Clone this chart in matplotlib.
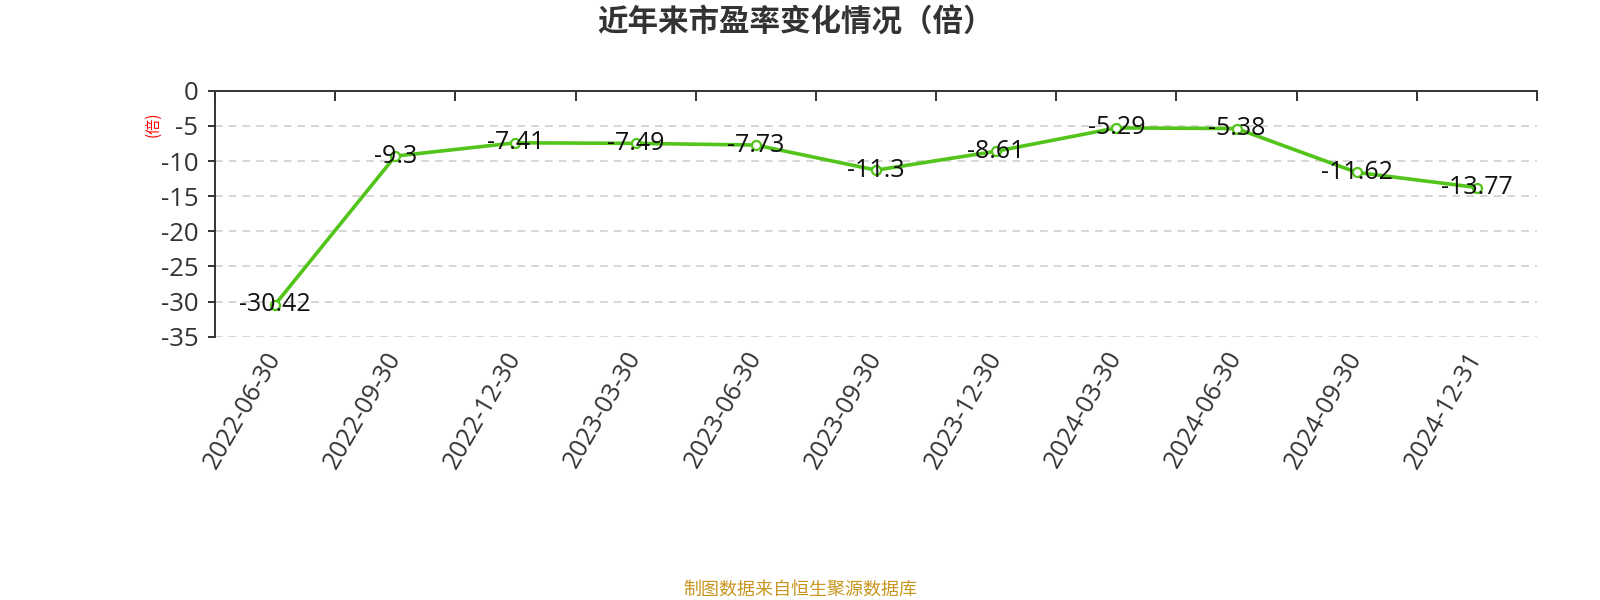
import numpy as np
import matplotlib
matplotlib.use("Agg")
import matplotlib.pyplot as plt

plt.rcParams['font.family'] = ['Open Sans', 'Noto Sans CJK SC', 'DejaVu Sans']
CJK = ['Noto Sans CJK SC', 'DejaVu Sans']

# data
dates = ["2022-06-30", "2022-09-30", "2022-12-30", "2023-03-30", "2023-06-30",
         "2023-09-30", "2023-12-30", "2024-03-30", "2024-06-30", "2024-09-30", "2024-12-31"]
pe = [-30.42, -9.3, -7.41, -7.49, -7.73, -11.3, -8.61, -5.29, -5.38, -11.62, -13.77]
yticks = [0, -5, -10, -15, -20, -25, -30, -35]

fig = plt.figure(figsize=(16, 6), dpi=100)
ax = fig.add_axes([0.1344, 0.4388, 0.8262, 0.41])

x = np.arange(len(dates))
ax.plot(x, pe, color='#52c41a', lw=2.6, marker='o', ms=6.5,
        mfc='white', mec='#52c41a', mew=1.6, zorder=3)
for xi, v in zip(x, pe):
    ax.text(xi, v, f"{v:g}", ha='center', va='center', fontsize=18,
            color='#111111', zorder=4)

ax.set_xlim(-0.5, len(dates) - 0.5)
ax.set_ylim(-35, 0)
ax.set_yticks(yticks)
ax.set_yticklabels([str(t) for t in yticks])
for t in yticks[1:]:
    ax.axhline(t, color='#cccccc', lw=1.1, ls=(0, (5, 4)), zorder=1)

ax.set_xticks(x)
ax.set_xticklabels(dates, rotation=60, ha='right', va='center', rotation_mode='anchor')
ax.set_xticks(np.arange(-0.5, len(dates), 1), minor=True)
ax.tick_params(axis='x', which='major', length=0, pad=12, labelsize=18, labelcolor='#333333')
ax.tick_params(axis='x', which='minor', top=True, bottom=False, direction='in',
               length=7, width=1.4, color='#333333')
ax.tick_params(axis='y', length=5, width=1.4, color='#333333', labelsize=18.5,
               labelcolor='#333333', pad=7)

for s in ['right', 'bottom']:
    ax.spines[s].set_visible(False)
for s in ['top', 'left']:
    ax.spines[s].set_color('#333333')
    ax.spines[s].set_linewidth(1.4)

fig.text(0.0956, 0.793, "(倍)", color='red', fontsize=11, rotation=90,
         ha='center', va='center', family=CJK)
fig.text(0.497, 0.962, "近年来市盈率变化情况（倍）", ha='center', va='center',
         fontsize=22, fontweight='bold', color='#333333', family=CJK)
fig.text(0.5, 0.018, "制图数据来自恒生聚源数据库", ha='center', va='center',
         fontsize=13, color='#c8961e', family=CJK)

fig.savefig("out.png", dpi=100)
